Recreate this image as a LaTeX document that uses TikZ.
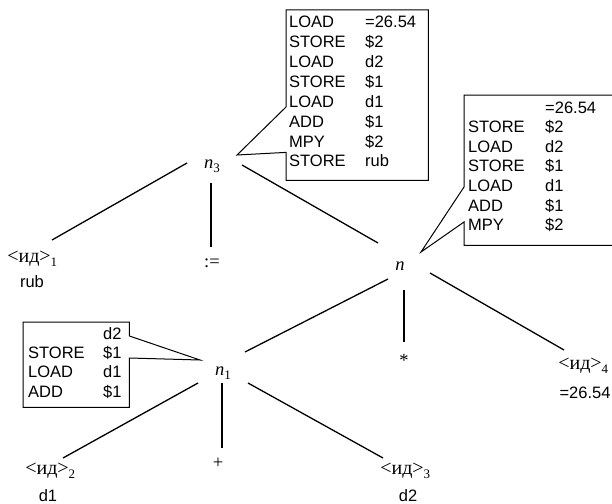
\documentclass[tikz,border=0pt]{standalone}
\usepackage{fontspec}
\setmainfont{Liberation Serif}
\newfontfamily\arialfont{Liberation Sans}
\newcommand\boxfontA{\arialfont\fontsize{16.5}{19.85}\selectfont}
\newcommand\boxfontB{\arialfont\fontsize{16.5}{19.65}\selectfont}
\newcommand\boxfontC{\arialfont\fontsize{16.5}{19.4}\selectfont}
\newcommand\treefont{\fontsize{18.5}{20}\selectfont}
\newcommand\sbs[1]{\raisebox{-4.5pt}{\fontsize{13}{13}\selectfont #1}}
\newcommand\idlab[1]{{\fontsize{20}{22}\selectfont <ид>}\rlap{\sbs{#1}}}
\begin{document}
\begin{tikzpicture}[x=1pt,y=-1pt,
  tree/.style={font=\treefont, inner sep=0pt, anchor=base},
  val/.style={font=\boxfontA, inner sep=0pt, anchor=base},
  edge/.style={line width=1.3pt},
  callout/.style={line width=1pt, line join=miter},
  holder/.style={inner sep=0pt, anchor=north west}]
\useasboundingbox (0,0) rectangle (612,503);

% tree nodes
\node[tree] (n3) at (212,168) {\textit{n}\sbs{3}};
\node[tree] (n) at (400,270) {\textit{n}};
\node[tree] (n1) at (223,375) {\textit{n}\sbs{1}};
\node[tree] (id1) at (29,262) {\idlab{1}};
\node[val] (v1) at (32,287) {rub};
\node[tree] (as) at (212,267) {:=};
\node[tree] (st) at (404,366) {*};
\node[tree] (id4) at (580,369) {\idlab{4}};
\node[val] (v4) at (585,398) {=26.54};
\node[tree] (id2) at (47,474) {\idlab{2}};
\node[val] (v2) at (48,501) {d1};
\node[tree] (pl) at (218,468) {+};
\node[tree] (id3) at (402,474) {\idlab{3}};
\node[val] (v3) at (408,501) {d2};

% edges
\draw[edge] ([shift={(-25,-5)}]n3.base) -- ([shift={(23,-22)}]id1.base);
\draw[edge] ([shift={(-1,15)}]n3.base) -- ([shift={(-1,-20)}]as.base);
\draw[edge] ([shift={(30,-3)}]n3.base) -- ([shift={(-22,-27)}]n.base);
\draw[edge] ([shift={(-12,9)}]n.base) -- ([shift={(22,-23)}]n1.base);
\draw[edge] ([shift={(4,20)}]n.base) -- ([shift={(0,-24)}]st.base);
\draw[edge] ([shift={(30,3)}]n.base) -- ([shift={(-16,-19)}]id4.base);
\draw[edge] ([shift={(-25,8)}]n1.base) -- ([shift={(16,-16)}]id2.base);
\draw[edge] ([shift={(-1,8)}]n1.base) -- ([shift={(4,-20)}]pl.base);
\draw[edge] ([shift={(25,8)}]n1.base) -- ([shift={(-19,-16)}]id3.base);

% top callout box
\node[holder, minimum width=142pt, minimum height=170pt] (box3) at (286,10) {};
\draw[callout] (box3.north west) -- (box3.north east) -- (box3.south east)
  -- (box3.south west) -- ([shift={(0,-28)}]box3.south west)
  -- ([shift={(25,-13)}]n3.base) -- ([shift={(0,97)}]box3.north west) -- cycle;
\node[val, font=\boxfontA, anchor=base west] (t3) at (289,28) {\begin{tabular}[t]{@{}p{76pt}@{}l@{}}
LOAD & =26.54\\
STORE & \$2\\
LOAD & d2\\
STORE & \$1\\
LOAD & d1\\
ADD & \$1\\
MPY & \$2\\
STORE & rub
\end{tabular}};

% right callout box (runs past the right edge)
\node[holder, minimum width=148pt, minimum height=150pt] (box4) at (464,95) {};
\draw[callout] (box4.north east) -- (box4.north west) -- ([shift={(0,92)}]box4.north west)
  -- ([shift={(21,-18)}]n.base) -- ([shift={(0,127)}]box4.north west)
  -- (box4.south west) -- (box4.south east);
\node[val, font=\boxfontB, anchor=base west] (t4) at (468,113) {\begin{tabular}[t]{@{}p{77pt}@{}l@{}}
 & =26.54\\
STORE & \$2\\
LOAD & d2\\
STORE & \$1\\
LOAD & d1\\
ADD & \$1\\
MPY & \$2
\end{tabular}};

% left callout box
\node[holder, minimum width=106pt, minimum height=85pt] (box1) at (23,322) {};
\draw[callout] (box1.north west) -- (box1.north east) -- ([shift={(0,14)}]box1.north east)
  -- ([shift={(-23,-15)}]n1.base) -- ([shift={(0,36)}]box1.north east)
  -- (box1.south east) -- (box1.south west) -- cycle;
\node[val, font=\boxfontC, anchor=base west] (t1) at (28,339) {\begin{tabular}[t]{@{}p{75pt}@{}l@{}}
 & d2\\
STORE & \$1\\
LOAD & d1\\
ADD & \$1
\end{tabular}};
\end{tikzpicture}
\end{document}
